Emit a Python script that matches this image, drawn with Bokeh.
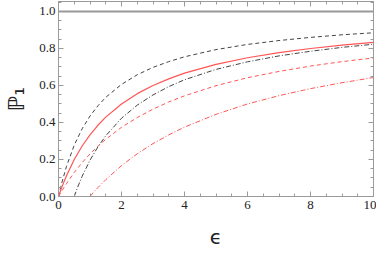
from bokeh.plotting import figure
from bokeh.models import LinearAxis, Range1d, SingleIntervalTicker, CustomJSTickFormatter
from bokeh.embed import file_html
from bokeh.resources import INLINE

# data
eps_a = [0, 0.1, 0.25, 0.5, 0.75, 1, 1.25, 1.5, 2, 2.5, 3, 3.5, 4, 5, 6, 7, 8, 9, 10]
black_dashed = [0, 0.071, 0.161, 0.278, 0.366, 0.435, 0.490, 0.536, 0.606, 0.658, 0.698,
                0.729, 0.755, 0.794, 0.822, 0.843, 0.860, 0.874, 0.885]
red_solid = [0, 0.048, 0.111, 0.200, 0.273, 0.333, 0.385, 0.429, 0.500, 0.556, 0.600,
             0.636, 0.667, 0.714, 0.750, 0.778, 0.800, 0.818, 0.833]
red_dashed = [0, 0.029, 0.069, 0.130, 0.183, 0.230, 0.272, 0.309, 0.374, 0.427, 0.472,
              0.511, 0.544, 0.599, 0.642, 0.676, 0.705, 0.729, 0.749]
eps_b = [0.5, 0.6, 0.75, 1, 1.25, 1.5, 2, 2.5, 3, 3.5, 4, 5, 6, 7, 8, 9, 10]
black_dashdot = [0, 0.047, 0.109, 0.196, 0.268, 0.328, 0.423, 0.494, 0.549, 0.594, 0.631,
                 0.687, 0.728, 0.760, 0.785, 0.806, 0.823]
eps_c = [1, 1.1, 1.25, 1.5, 2, 2.5, 3, 3.5, 4, 5, 6, 7, 8, 9, 10]
red_dashdot = [0, 0.020, 0.048, 0.091, 0.167, 0.231, 0.286, 0.333, 0.375, 0.444, 0.500,
               0.545, 0.583, 0.615, 0.643]
limit_x = [0, 10]
limit_y = [1.0, 1.0]

AX = "#9a9a9a"
TXT = "#222222"
SERIF = "Liberation Serif"

p = figure(width=376, height=252, output_backend="svg", toolbar_location=None,
           x_range=Range1d(0, 10), y_range=Range1d(0, 1.054),
           min_border_left=58, min_border_right=3, min_border_top=1, min_border_bottom=56,
           x_axis_label="ϵ", y_axis_label="ℙ₁")
p.grid.visible = False
p.outline_line_color = AX
p.background_fill_color = "white"
p.border_fill_color = "white"

p.line(limit_x, limit_y, color="#999999", line_width=2)
p.line(eps_a, black_dashed, color="#444444", line_width=1, line_dash="4 3")
p.line(eps_b, black_dashdot, color="#444444", line_width=1, line_dash="5 2 1 2")
p.line(eps_a, red_solid, color="#ff5555", line_width=1.2)
p.line(eps_a, red_dashed, color="#ff5555", line_width=1, line_dash="4 3")
p.line(eps_c, red_dashdot, color="#ff5555", line_width=1, line_dash="5 2 1 2")

p.xaxis.ticker = SingleIntervalTicker(interval=2, num_minor_ticks=4)
p.yaxis.ticker = SingleIntervalTicker(interval=0.2, num_minor_ticks=4)
p.yaxis.formatter = CustomJSTickFormatter(code="return tick.toFixed(1);")

for ax in (p.xaxis[0], p.yaxis[0]):
    ax.axis_line_color = AX
    ax.major_tick_line_color = AX
    ax.minor_tick_line_color = AX
    ax.major_tick_in = 5
    ax.major_tick_out = 0
    ax.minor_tick_in = 3
    ax.minor_tick_out = 0
    ax.major_label_text_font = SERIF
    ax.major_label_text_font_size = "13px"
    ax.major_label_text_color = TXT
    ax.axis_label_text_color = TXT
    ax.axis_label_text_font = "DejaVu Sans"
    ax.axis_label_text_font_style = "normal"

p.xaxis.major_label_standoff = 4
p.yaxis.major_label_standoff = 3
p.xaxis.axis_label_text_font_size = "20px"
p.xaxis.axis_label_standoff = 13
p.yaxis.axis_label_text_font_size = "22px"
p.yaxis.axis_label_standoff = 7

blank = CustomJSTickFormatter(code="return '';")
for loc, tick in (("above", SingleIntervalTicker(interval=2, num_minor_ticks=4)),
                  ("right", SingleIntervalTicker(interval=0.2, num_minor_ticks=4))):
    a = LinearAxis(ticker=tick, formatter=blank,
                   axis_line_color=AX, major_tick_line_color=AX, minor_tick_line_color=AX,
                   major_tick_in=5, major_tick_out=0, minor_tick_in=3, minor_tick_out=0,
                   major_label_standoff=0)
    p.add_layout(a, loc)

open("out.html", "w").write(file_html(p, INLINE))
